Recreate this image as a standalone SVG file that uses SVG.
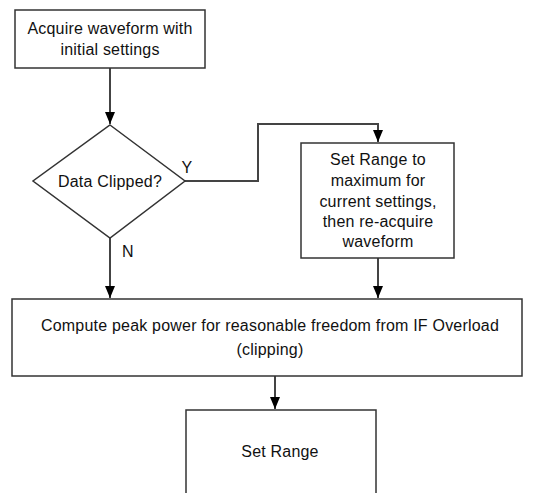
<svg xmlns="http://www.w3.org/2000/svg" width="540" height="493" viewBox="0 0 540 493">
<defs>
<marker id="ah" markerWidth="12" markerHeight="10" refX="12" refY="5" orient="auto" markerUnits="userSpaceOnUse" viewBox="0 0 12 10">
<path d="M0,0 L12,5 L0,10 Z" fill="#000"/>
</marker>
<style>
.box{fill:#fff;stroke:#333;stroke-width:1.5}
.ln{fill:none;stroke:#444;stroke-width:2}
text{font-family:"Liberation Sans",Arial,sans-serif;font-size:16px;letter-spacing:0.2px;fill:#111;text-anchor:middle}
</style>
</defs>
<rect width="540" height="493" fill="#fff"/>
<g id="connectors">
<path class="ln" d="M110,68 V124" marker-end="url(#ah)"/>
<path class="ln" d="M185,181 H258 V124 H378 V142" marker-end="url(#ah)"/>
<path class="ln" d="M110,238 V298" marker-end="url(#ah)"/>
<path class="ln" d="M378,258 V298" marker-end="url(#ah)"/>
<path class="ln" d="M275,376 V409" marker-end="url(#ah)"/>
<text x="187" y="173">Y</text>
<text x="128" y="257">N</text>
</g>
<g id="acquire">
<rect class="box" x="15" y="10" width="190" height="58"/>
<text x="110" y="34">Acquire waveform with</text>
<text x="110" y="55">initial settings</text>
</g>
<g id="clipped">
<polygon class="box" points="110,125 185,181 110,238 33,181"/>
<text x="110" y="187">Data Clipped?</text>
</g>
<g id="setmax">
<rect class="box" x="301" y="143" width="153" height="115"/>
<text x="378" y="165">Set Range to</text>
<text x="378" y="186">maximum for</text>
<text x="378" y="207">current settings,</text>
<text x="378" y="227">then re-acquire</text>
<text x="378" y="247">waveform</text>
</g>
<g id="compute">
<rect class="box" x="12" y="299" width="510" height="77"/>
<text x="270" y="331">Compute peak power for reasonable freedom from IF Overload</text>
<text x="270" y="355">(clipping)</text>
</g>
<g id="setrange">
<rect class="box" x="186" y="410" width="190" height="100"/>
<text x="280" y="457">Set Range</text>
</g>
</svg>
